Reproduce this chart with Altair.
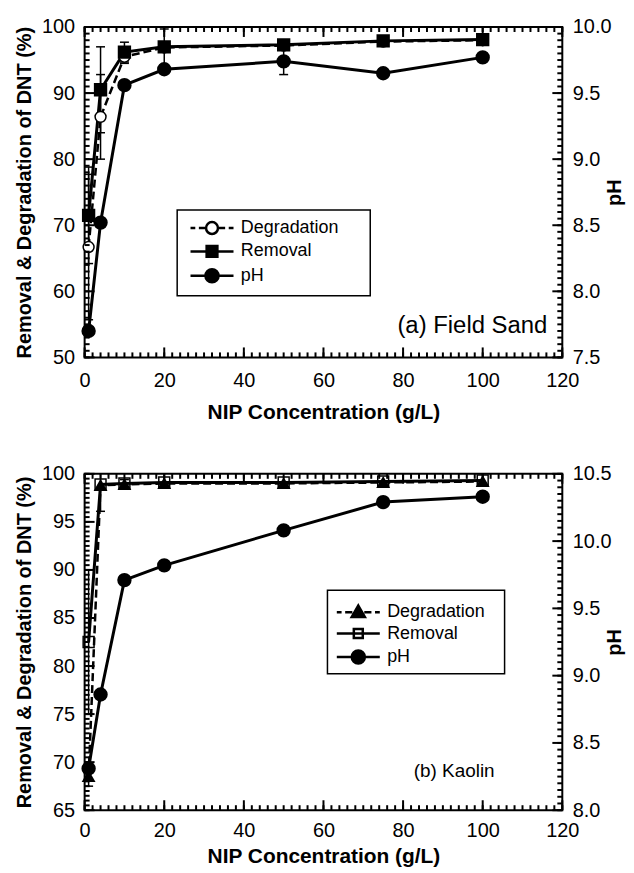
import altair as alt
import pandas as pd

FONT = "Liberation Sans"

# ---------------- data ----------------
conc = [1, 4, 10, 20, 50, 75, 100]

# (a) Field Sand
sand_degradation = [66.7, 86.4, 95.5, 96.9, 97.2, 97.8, 98.0]
sand_degradation_err = [11.0, 6.4, 1.0, 0.0, 0.0, 0.0, 0.0]
sand_removal = [71.5, 90.5, 96.2, 97.0, 97.3, 97.9, 98.1]
sand_removal_err = [7.3, 6.5, 1.5, 2.7, 0.0, 0.0, 0.0]
sand_ph = [7.70, 8.52, 9.56, 9.68, 9.74, 9.65, 9.77]
sand_ph_err = [0.0, 0.0, 0.0, 0.0, 0.10, 0.0, 0.0]

# (b) Kaolin
kaolin_degradation = [68.5, 98.8, 98.9, 99.0, 99.0, 99.1, 99.2]
kaolin_degradation_err = [1.0, 0.0, 0.0, 0.0, 0.0, 0.0, 0.0]
kaolin_removal = [82.5, 98.9, 99.0, 99.1, 99.1, 99.2, 99.3]
kaolin_removal_err = [7.5, 2.8, 0.4, 0.0, 0.0, 0.0, 0.0]
kaolin_ph = [8.31, 8.86, 9.71, 9.82, 10.08, 10.29, 10.33]
kaolin_ph_err = [0.0, 0.0, 0.0, 0.0, 0.0, 0.0, 0.0]

series_names = ["Degradation", "Removal", "pH"]

x_domain = [0, 120]
x_major = [0, 20, 40, 60, 80, 100, 120]
x_minor = list(range(0, 121, 2))

sand_left_domain = [50, 100]
sand_left_major = [50, 60, 70, 80, 90, 100]
sand_left_minor = list(range(50, 101, 1))
sand_right_domain = [7.5, 10.0]
sand_right_major = [7.5, 8.0, 8.5, 9.0, 9.5, 10.0]

kaolin_left_domain = [65, 100]
kaolin_left_major = [65, 70, 75, 80, 85, 90, 95, 100]
kaolin_left_minor = [65 + 0.5 * i for i in range(71)]
kaolin_right_domain = [8.0, 10.5]
kaolin_right_major = [8.0, 8.5, 9.0, 9.5, 10.0, 10.5]


def minor_steps(lo, hi, step):
    n = int(round((hi - lo) / step))
    return [round(lo + step * i, 3) for i in range(n + 1)]


# legend symbol paths (line + marker)
DASH = "M-3.6,0H-2.8M-2.2,0H-1.0M1.0,0H2.2M2.8,0H3.6"
CIRCLE = "M1,0A1,1,0,1,1,-1,0A1,1,0,1,1,1,0Z"
BIGCIRCLE = "M1.1,0A1.1,1.1,0,1,1,-1.1,0A1.1,1.1,0,1,1,1.1,0Z"
SOLID = "M-3.6,0H3.6"
SQUARE = "M-0.9,-0.9H0.9V0.9H-0.9Z"
SQUARE_SMALL = "M-0.75,-0.75H0.75V0.75H-0.75Z"
TRIANGLE = "M0,-1.1L1.1,0.8H-1.1Z"

sand_legend_paths = [DASH + CIRCLE, SOLID + SQUARE, SOLID + BIGCIRCLE]
sand_legend_fills = ["white", "black", "black"]
kaolin_legend_paths = [DASH + TRIANGLE, SOLID + SQUARE_SMALL, SOLID + BIGCIRCLE]
kaolin_legend_fills = ["black", "white", "black"]


def xsc():
    return alt.Scale(domain=x_domain, nice=False, zero=False)


def ysc(domain):
    return alt.Scale(domain=domain, nice=False, zero=False)


def xs(axis=None, field="conc"):
    return alt.X(f"{field}:Q", scale=xsc(), axis=axis)


def ys(field, domain, axis=None):
    return alt.Y(f"{field}:Q", scale=ysc(domain), axis=axis)


AX_COMMON = dict(domain=False, grid=False, ticks=False, tickSize=0, labelFlush=False,
                 labelOverlap=False,
                 labelFont=FONT, labelFontSize=20, labelColor="black",
                 titleFont=FONT, titleColor="black", titleFontWeight="bold")

MAJOR_LEN = 10
MINOR_LEN = 5
TICK_W = 2


def tick_layers(left_dom, left_major, left_minor, right_dom, right_major, right_minor):
    """Inward frame ticks, drawn as tick marks shifted to lie inside the frame."""
    layers = []
    for vals, ln in ((x_major, MAJOR_LEN), (x_minor, MINOR_LEN)):
        for edge, sign in ((left_dom[0], -1), (left_dom[1], 1)):
            d = pd.DataFrame({"t": vals, "e": [edge] * len(vals)})
            layers.append(alt.Chart(d).mark_tick(
                orient="vertical", size=ln, thickness=TICK_W, color="black", opacity=1,
                yOffset=sign * ln / 2).encode(
                x=alt.X("t:Q", scale=xsc(), axis=None), y=ys("e", left_dom)))
    for vals, ln in ((left_major, MAJOR_LEN), (left_minor, MINOR_LEN)):
        d = pd.DataFrame({"t": vals, "e": [x_domain[0]] * len(vals)})
        layers.append(alt.Chart(d).mark_tick(
            orient="horizontal", size=ln, thickness=TICK_W, color="black", opacity=1,
            xOffset=ln / 2).encode(
            y=ys("t", left_dom), x=xs(field="e")))
    for vals, ln in ((right_major, MAJOR_LEN), (right_minor, MINOR_LEN)):
        d = pd.DataFrame({"t": vals, "e": [x_domain[1]] * len(vals)})
        layers.append(alt.Chart(d).mark_tick(
            orient="horizontal", size=ln, thickness=TICK_W, color="black", opacity=1,
            xOffset=-ln / 2).encode(
            y=ys("t", right_dom), x=xs(field="e")))
    return layers


def err_frame(values, errs, domain):
    rows = []
    for c, v, e in zip(conc, values, errs):
        if e > 0:
            rows.append({"conc": c, "lo": max(v - e, domain[0]), "hi": min(v + e, domain[1])})
    return pd.DataFrame(rows, columns=["conc", "lo", "hi"])


def panel(degr, degr_err, rem, rem_err, ph, ph_err,
          left_dom, left_major, left_minor, right_dom, right_major,
          deg_mark, rem_mark, legend_paths, legend_fills, box,
          legend_x, legend_y, label, label_size, label_x, label_y, height,
          x_label_pad, x_title_pad):
    W = 480
    df = pd.DataFrame({"conc": conc, "deg": degr, "rem": rem, "ph": ph})
    err_left = pd.concat([err_frame(degr, degr_err, left_dom),
                          err_frame(rem, rem_err, left_dom)], ignore_index=True)
    err_right = err_frame(ph, ph_err, right_dom)

    ax_x = alt.Axis(orient="bottom", values=x_major, labelPadding=x_label_pad,
                    title="NIP Concentration (g/L)", titleFontSize=21,
                    titlePadding=x_title_pad, **AX_COMMON)
    ax_yl = alt.Axis(orient="left", values=left_major, labelPadding=10, format="d",
                     title="Removal & Degradation of DNT (%)",
                     titleFontSize=20, titlePadding=7, **AX_COMMON)
    ax_yr = alt.Axis(orient="right", values=right_major, labelPadding=10, format=".1f",
                     title="pH", titleFontSize=20, titleAngle=270, titlePadding=14, **AX_COMMON)

    base = alt.Chart(df)

    err_rule_l = alt.Chart(err_left).mark_rule(color="black", strokeWidth=1.5).encode(
        x=xs(), y=ys("lo", left_dom), y2=alt.Y2("hi:Q"))
    err_cap_l = alt.Chart(err_left).transform_fold(["lo", "hi"], as_=["k", "v"]).transform_filter(
        f"datum.v < {left_dom[1]}").mark_tick(
        orient="horizontal", size=9, thickness=1.5, color="black", opacity=1).encode(
        x=xs(), y=ys("v", left_dom))
    err_rule_r = alt.Chart(err_right).mark_rule(color="black", strokeWidth=1.5).encode(
        x=xs(), y=ys("lo", right_dom), y2=alt.Y2("hi:Q"))
    err_cap_r = alt.Chart(err_right).transform_fold(["lo", "hi"], as_=["k", "v"]).mark_tick(
        orient="horizontal", size=9, thickness=1.5, color="black", opacity=1).encode(
        x=xs(), y=ys("v", right_dom))

    deg_line = base.mark_line(color="black", strokeWidth=2.5, strokeDash=[8, 4]).encode(
        x=xs(), y=ys("deg", left_dom))
    rem_line = base.mark_line(color="black", strokeWidth=3).encode(
        x=xs(ax_x), y=ys("rem", left_dom, ax_yl))
    ph_line = base.mark_line(color="black", strokeWidth=3).encode(
        x=xs(), y=ys("ph", right_dom, ax_yr))

    deg_pts = base.mark_point(opacity=1, **deg_mark).encode(x=xs(), y=ys("deg", left_dom))
    rem_pts = base.mark_point(opacity=1, **rem_mark).encode(x=xs(), y=ys("rem", left_dom))
    ph_pts = base.mark_point(shape="circle", filled=True, fill="black", stroke="black",
                             size=155, opacity=1).encode(x=xs(), y=ys("ph", right_dom))

    # legend frame (decoration, pixel placed)
    bx0, by0, bx1, by1 = box
    legend_box = alt.Chart(pd.DataFrame({"k": [0]})).mark_rect(
        fill="white", stroke="black", strokeWidth=1.5).encode(
        x=alt.value(bx0), x2=alt.value(bx1), y=alt.value(by0), y2=alt.value(by1))

    leg = alt.Legend(title=None, orient="none", legendX=legend_x, legendY=legend_y,
                     padding=8, strokeColor="transparent", fillColor="transparent",
                     labelFont=FONT, labelFontSize=18, labelColor="black",
                     symbolSize=144, symbolStrokeWidth=2.5, symbolOffset=16,
                     labelOffset=20, rowPadding=1.5)
    legend_df = pd.DataFrame({"series": series_names, "conc": [0, 0, 0], "v": [0, 0, 0]})
    legend_layer = alt.Chart(legend_df).transform_filter("datum.series == 'none'").mark_point(
        opacity=1, size=144, strokeWidth=2.5).encode(
        x=xs(), y=ys("v", left_dom),
        shape=alt.Shape("series:N", scale=alt.Scale(domain=series_names, range=legend_paths), legend=leg),
        fill=alt.Fill("series:N", scale=alt.Scale(domain=series_names, range=legend_fills), legend=leg),
        stroke=alt.Stroke("series:N", scale=alt.Scale(domain=series_names, range=["black"] * 3), legend=leg),
    )

    label_layer = alt.Chart(pd.DataFrame({"t": [label]})).mark_text(
        align="right", baseline="middle", font=FONT, fontSize=label_size, color="black").encode(
        text="t:N", x=alt.value(label_x), y=alt.value(label_y))

    ticks = tick_layers(left_dom, left_major, left_minor, right_dom, right_major,
                        minor_steps(right_dom[0], right_dom[1], 0.05))

    return alt.layer(err_rule_l, err_cap_l, err_rule_r, err_cap_r,
                     deg_line, rem_line, ph_line,
                     deg_pts, rem_pts, ph_pts, legend_box, legend_layer, label_layer,
                     *ticks).resolve_scale(
        x="independent", y="independent").properties(width=W, height=height)


top = panel(sand_degradation, sand_degradation_err, sand_removal, sand_removal_err, sand_ph, sand_ph_err,
            sand_left_domain, sand_left_major, sand_left_minor, sand_right_domain, sand_right_major,
            dict(shape="circle", filled=True, fill="white", stroke="black", strokeWidth=1.5, size=120),
            dict(shape="square", filled=True, fill="black", stroke="black", size=130),
            sand_legend_paths, sand_legend_fills, (93, 184, 287, 270), 95, 185,
            "(a) Field Sand", 24, 465, 300, 332, 13, 11)

bottom = panel(kaolin_degradation, kaolin_degradation_err, kaolin_removal, kaolin_removal_err,
               kaolin_ph, kaolin_ph_err,
               kaolin_left_domain, kaolin_left_major, kaolin_left_minor, kaolin_right_domain, kaolin_right_major,
               dict(shape="triangle-up", filled=True, fill="black", stroke="black", size=110),
               dict(shape="square", filled=False, stroke="black", strokeWidth=1.5, size=120),
               kaolin_legend_paths, kaolin_legend_fills, (244, 117, 422, 201), 242, 122,
               "(b) Kaolin", 19, 412, 299, 338, 10, 6)

chart = alt.vconcat(top, bottom, spacing=40).resolve_scale(
    shape="independent", fill="independent", stroke="independent").configure(
    padding={"left": 5, "top": 6, "right": 0, "bottom": 0}).configure_view(
    stroke="black", strokeWidth=2)

chart.save("out.html", embed_options={"renderer": "svg", "actions": False})
